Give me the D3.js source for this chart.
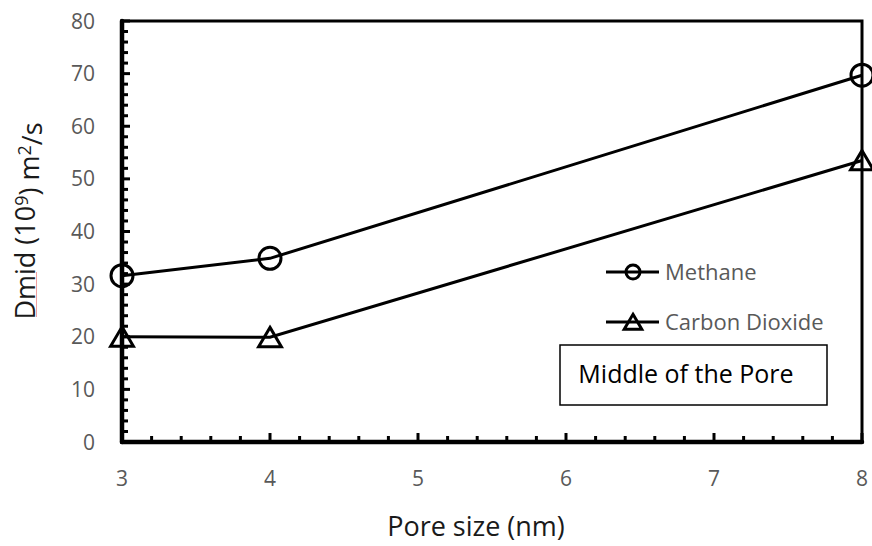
<!DOCTYPE html>
<html>
<head>
<meta charset="utf-8">
<script src="https://cdn.jsdelivr.net/npm/d3@7/dist/d3.min.js"></script>
<style>
  html, body { margin: 0; padding: 0; background: #fff; }
  svg { display: block; font-family: "Open Sans", sans-serif; }
</style>
</head>
<body>
<svg id="chart" width="872" height="546"></svg>
<script>
// Pore sizes (nm) and diffusion coefficients in the middle of the pore
const poreSizes = [3, 4, 8];
const methane = [31.6, 34.9, 69.7];
const carbonDioxide = [20.0, 19.9, 53.5];
const xTicks = [3, 4, 5, 6, 7, 8];
const yTicks = [0, 10, 20, 30, 40, 50, 60, 70, 80];

const seriesList = [
  { name: "Methane", values: methane, marker: "circle" },
  { name: "Carbon Dioxide", values: carbonDioxide, marker: "triangle" }
];

const svg = d3.select("#chart");
const plot = { left: 122, right: 862, top: 21, bottom: 442 };

const x = d3.scaleLinear().domain([3, 8]).range([plot.left, plot.right]);
const y = d3.scaleLinear().domain([0, 80]).range([plot.bottom, plot.top]);

const tickGrey = "#595959";

// plot border
svg.append("rect")
  .attr("x", plot.left).attr("y", plot.top)
  .attr("width", plot.right - plot.left).attr("height", plot.bottom - plot.top)
  .attr("fill", "none").attr("stroke", "#000").attr("stroke-width", 3);

// minor ticks (inside)
const yMinor = d3.range(0, 80.01, 2);
const xMinor = d3.range(3, 8.001, 0.2);

svg.append("g").selectAll("line").data(yMinor).join("line")
  .attr("x1", plot.left).attr("x2", d => plot.left + (d % 10 === 0 ? 8 : 6))
  .attr("y1", d => y(d)).attr("y2", d => y(d))
  .attr("stroke", "#000").attr("stroke-width", 3);

svg.append("g").selectAll("line").data(xMinor).join("line")
  .attr("x1", d => x(d)).attr("x2", d => x(d))
  .attr("y1", plot.bottom).attr("y2", d => plot.bottom - (Math.abs(d - Math.round(d)) < 1e-6 ? 9 : 6))
  .attr("stroke", "#000").attr("stroke-width", 3);

// axis lines
svg.append("line")
  .attr("x1", plot.left).attr("x2", plot.left)
  .attr("y1", plot.top).attr("y2", plot.bottom)
  .attr("stroke", "#000").attr("stroke-width", 4.5).attr("stroke-linecap", "round");
svg.append("line")
  .attr("x1", plot.left).attr("x2", plot.right)
  .attr("y1", plot.bottom).attr("y2", plot.bottom)
  .attr("stroke", "#000").attr("stroke-width", 4.5).attr("stroke-linecap", "round");

// tick labels
svg.append("g").selectAll("text").data(yTicks).join("text")
  .attr("x", 95).attr("y", d => y(d))
  .attr("dy", "0.36em")
  .attr("text-anchor", "end")
  .attr("font-size", 21).attr("fill", tickGrey)
  .text(d => d);

svg.append("g").selectAll("text").data(xTicks).join("text")
  .attr("x", d => x(d)).attr("y", 486)
  .attr("text-anchor", "middle")
  .attr("font-size", 21).attr("fill", tickGrey)
  .text(d => d);

// axis titles
svg.append("text")
  .attr("x", 476).attr("y", 536)
  .attr("text-anchor", "middle")
  .attr("font-size", 27).attr("fill", "#1a1a1a")
  .text("Pore size (nm)");

const yTitle = svg.append("text")
  .attr("transform", "translate(35,221) rotate(-90)")
  .attr("text-anchor", "middle")
  .attr("font-size", 27).attr("fill", "#1a1a1a");
yTitle.append("tspan").text("Dmid (10");
yTitle.append("tspan").attr("dy", "-0.4em").attr("font-size", 18).text("9");
yTitle.append("tspan").attr("dy", "0.4em").text(") m");
yTitle.append("tspan").attr("dy", "-0.4em").attr("font-size", 18).text("2");
yTitle.append("tspan").attr("dy", "0.4em").text("/s");

// spell-check underline beneath "Dmid"
svg.append("line")
  .attr("x1", 36.5).attr("x2", 36.5)
  .attr("y1", 272).attr("y2", 317)
  .attr("stroke", "#f0a0a0").attr("stroke-width", 1);

// marker shapes
const triPath = r => `M0,${-r}L${r * 1.15},${r * 0.95}L${-r * 1.15},${r * 0.95}Z`;
function drawMarker(g, type, size) {
  if (type === "circle") {
    g.append("circle").attr("r", size)
      .attr("fill", "none").attr("stroke", "#000").attr("stroke-width", 3);
  } else {
    g.append("path").attr("d", triPath(size * 0.9))
      .attr("fill", "none").attr("stroke", "#000").attr("stroke-width", 3)
      .attr("stroke-linejoin", "miter");
  }
}

const line = d3.line().x(d => x(d[0])).y(d => y(d[1]));

seriesList.forEach(s => {
  const pts = poreSizes.map((p, i) => [p, s.values[i]]);
  svg.append("path").datum(pts)
    .attr("d", line)
    .attr("fill", "none").attr("stroke", "#000").attr("stroke-width", 3);
  pts.forEach(p => {
    const g = svg.append("g").attr("transform", `translate(${x(p[0])},${y(p[1])})`);
    drawMarker(g, s.marker, 11);
  });
});

// legend
const legendRows = [272, 322];
seriesList.forEach((s, i) => {
  const g = svg.append("g").attr("transform", `translate(606,${legendRows[i]})`);
  g.append("line").attr("x1", 0).attr("x2", 53).attr("y1", 0).attr("y2", 0)
    .attr("stroke", "#000").attr("stroke-width", 3);
  const m = g.append("g").attr("transform", "translate(27,0)");
  drawMarker(m, s.marker, s.marker === "circle" ? 7 : 8.5);
  g.append("text").attr("x", 59).attr("y", 0).attr("dy", "0.36em")
    .attr("font-size", 22).attr("fill", tickGrey)
    .text(s.name);
});

// annotation box
svg.append("rect")
  .attr("x", 560).attr("y", 345).attr("width", 267).attr("height", 60)
  .attr("fill", "#fff").attr("stroke", "#000").attr("stroke-width", 1.5);
svg.append("text")
  .attr("x", 686).attr("y", 383)
  .attr("text-anchor", "middle")
  .attr("font-size", 25).attr("fill", "#000")
  .text("Middle of the Pore");
</script>
</body>
</html>
